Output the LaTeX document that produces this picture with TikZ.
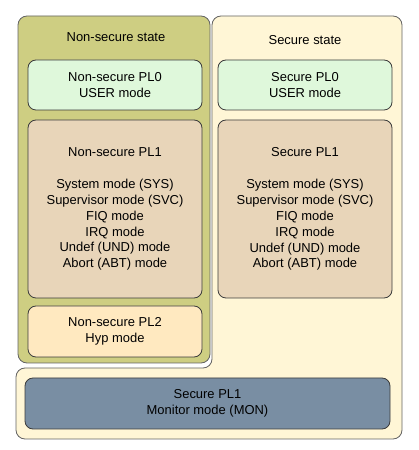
\documentclass[tikz,border=0pt]{standalone}
\usepackage{fontspec}
\setmainfont{Liberation Sans}
\definecolor{nscol}{RGB}{206,206,130}
\definecolor{scol}{RGB}{255,246,214}
\definecolor{plzero}{RGB}{223,248,219}
\definecolor{plone}{RGB}{232,213,185}
\definecolor{pltwo}{RGB}{255,233,192}
\definecolor{moncol}{RGB}{121,142,163}
\definecolor{edgecol}{RGB}{60,60,60}
\begin{document}
\begin{tikzpicture}[font=\fontsize{13}{16}\selectfont,
	box/.style={draw=edgecol,rounded corners=8bp,line width=0.8bp,align=center,inner sep=0pt},
	statebox/.style={draw=edgecol!80,rounded corners=9bp,line width=0.8bp}]
		\useasboundingbox (0bp,0bp) rectangle (419bp,450bp);
		%% secure state outline
  \draw [statebox,fill=scol] (212bp,434bp) -- (402bp,434bp) -- (402bp,11bp) -- (16bp,11bp) -- (16bp,82bp) -- (212bp,82bp) -- cycle;
  \node (NS) at (114bp,260.5bp) [statebox,fill=nscol,minimum width=192bp,minimum height=347bp] {};
  \node (NStitle) at (116bp,413bp) {Non-secure state};
  \node (Stitle) at (305bp,410bp) {Secure state};
		%% non-secure modes
  \node (NSPL0) at (115bp,365bp) [box,fill=plzero,minimum width=174bp,minimum height=50bp] {Non-secure PL0\\USER mode};
  \node (NSPL1) at (115bp,241bp) [box,fill=plone,minimum width=174bp,minimum height=178bp] {Non-secure PL1\\ \\System mode (SYS)\\Supervisor mode (SVC)\\FIQ mode\\IRQ mode\\Undef (UND) mode\\Abort (ABT) mode};
  \node (NSPL2) at (115bp,118.5bp) [box,fill=pltwo,minimum width=174bp,minimum height=51bp] {Non-secure PL2\\Hyp mode};
		%% secure modes
  \node (SPL0) at (305bp,365bp) [box,fill=plzero,minimum width=174bp,minimum height=50bp] {Secure PL0\\USER mode};
  \node (SPL1) at (305bp,241bp) [box,fill=plone,minimum width=174bp,minimum height=178bp] {Secure PL1\\ \\System mode (SYS)\\Supervisor mode (SVC)\\FIQ mode\\IRQ mode\\Undef (UND) mode\\Abort (ABT) mode};
  \node (MON) at (207.5bp,46.5bp) [box,fill=moncol,minimum width=365bp,minimum height=51bp] {Secure PL1\\Monitor mode (MON)};
		%
	\end{tikzpicture}
\end{document}
